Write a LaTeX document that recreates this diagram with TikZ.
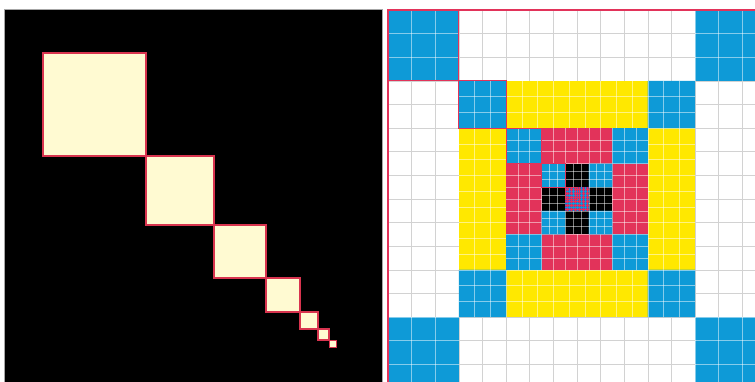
\documentclass[tikz,border=0pt]{standalone}
\definecolor{cblue}{HTML}{0E9AD7}
\definecolor{cyel}{HTML}{FFE800}
\definecolor{cred}{HTML}{E2335A}
\definecolor{ccream}{HTML}{FFFAD2}
\definecolor{cedge}{HTML}{D8344F}
\definecolor{cpurp}{HTML}{7A3E9E}
\definecolor{cgrid}{HTML}{D2D2D2}
\tikzset{
  chainsq/.style={fill=ccream, draw=cedge, line width=1.4pt},
  outl/.style={draw=cred, line width=1.2pt},
  gridw/.style={draw=white, draw opacity=0.5, line width=0.6pt},
  gridg/.style={draw=cgrid, line width=0.7pt},
}
% #1 outer half size, #2 inner half size, #3 number of subdivisions,
% #4 edge colour, #5 subdivisions minus one, #6 line style on edges
\newcommand{\ringlayer}[6]{%
  \fill[#4] (-#1,-#1) rectangle (#1,#1);
  \fill[cblue] (-#1,-#1) rectangle (-#2,-#2) (#2,-#1) rectangle (#1,-#2)
               (-#1,#2) rectangle (-#2,#1) (#2,#2) rectangle (#1,#1);
  \pgfmathsetmacro\stp{2*#1/#3}
  \foreach \k in {1,...,#5}{%
    \pgfmathsetmacro\p{-#1+\k*\stp}
    \draw[#6] (\p,-#1) -- (\p,#1);
    \draw[#6] (-#1,\p) -- (#1,\p);
  }
  \begin{scope}
    \clip (-#1,-#1) rectangle (-#2,-#2) (#2,-#1) rectangle (#1,-#2)
          (-#1,#2) rectangle (-#2,#1) (#2,#2) rectangle (#1,#1);
    \fill[cblue] (-#1,-#1) rectangle (#1,#1);
    \foreach \k in {1,...,#5}{%
      \pgfmathsetmacro\p{-#1+\k*\stp}
      \draw[gridw] (\p,-#1) -- (\p,#1);
      \draw[gridw] (-#1,\p) -- (#1,\p);
    }
  \end{scope}
}
\begin{document}
\begin{tikzpicture}[x=1pt,y=-1pt]
\useasboundingbox (0,0) rectangle (755,382);
\fill[white] (0,0) rectangle (755,382);
% left panel
\fill[black] (4,9) rectangle (382,383);
\draw[gray!70, line width=0.6pt] (4,383) -- (4,9) -- (382,9) -- (382,383);
\draw[chainsq] (43,53) rectangle (146,156);
\draw[chainsq] (146,156) rectangle (214,225);
\draw[chainsq] (214,225) rectangle (266,278);
\draw[chainsq] (266,278) rectangle (300,312);
\draw[chainsq, line width=1.2pt] (300,312) rectangle (318,329);
\draw[chainsq, line width=1.1pt] (318,329) rectangle (329,340);
\draw[chainsq, line width=1pt] (329,340) rectangle (336,347);
% right panel
\begin{scope}
\clip (386,8) rectangle (755,382);
\begin{scope}[shift={(577pt,-199pt)}, x=23.625pt, y=-23.625pt]
  \ringlayer{8}{5}{16}{white}{15}{gridg}
  \ringlayer{5}{3}{15}{cyel}{14}{gridw}
  \ringlayer{3}{1.5}{12}{cred}{11}{gridw}
  \ringlayer{1.5}{0.5}{9}{black}{8}{gridw}
  % centre
  \fill[cpurp] (-0.5,-0.5) rectangle (0.5,0.5);
  \foreach \k in {1,...,11}{%
    \pgfmathsetmacro\p{-0.5+\k/12}
    \pgfmathsetmacro\q{mod(\k,2)}
    \ifdim\q pt>0.5pt
      \draw[cred, line width=0.5pt] (\p,-0.5) -- (\p,0.5);
      \draw[cred, line width=0.5pt] (-0.5,\p) -- (0.5,\p);
    \else
      \draw[cblue, line width=0.5pt] (\p,-0.5) -- (\p,0.5);
      \draw[cblue, line width=0.5pt] (-0.5,\p) -- (0.5,\p);
    \fi
  }
  % outlined chain of corner squares
  \draw[outl] (-8,-8) rectangle (-5,-5);
  \draw[outl] (-5,-5) rectangle (-3,-3);
  \draw[outl] (-3,-3) rectangle (-1.5,-1.5);
  \draw[outl, line width=0.9pt] (-1.5,-1.5) rectangle (-0.5,-0.5);
  \draw[outl, line width=0.7pt] (-0.5,-0.5) rectangle (0,0);
  % outer border
  \draw[cred, line width=1.6pt] (-8,-8) rectangle (8,8);
\end{scope}
\end{scope}
\end{tikzpicture}
\end{document}
